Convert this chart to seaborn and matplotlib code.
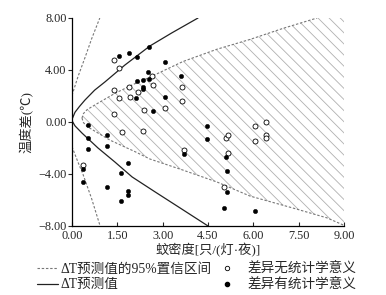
import numpy as np
import pandas as pd
import matplotlib
matplotlib.use("Agg")
import matplotlib.pyplot as plt
from matplotlib.lines import Line2D
import seaborn as sns

# ---------------- data ----------------
ns_x = [1.39, 1.56, 1.39, 1.56, 1.89, 1.92, 2.18, 2.38, 2.68, 2.65, 1.39, 1.65, 2.35,
        3.08, 3.64, 3.64, 3.71, 6.06, 6.42, 5.10, 5.16, 6.06, 6.42, 6.42, 5.16, 5.03, 0.36]
ns_y = [4.77, 4.15, 2.46, 1.85, 2.69, 1.92, 2.31, 0.92, 2.85, 3.54, 0.62, -0.77, -0.69,
        1.08, 2.69, 1.62, -2.15, -0.31, 0.00, -1.23, -1.00, -1.46, -1.00, -1.23, -2.38, -5.00, -3.31]

sig_x = [1.56, 1.89, 2.15, 2.55, 3.08, 2.51, 2.15, 2.35, 2.55, 2.35, 2.35, 2.12, 3.08,
         2.68, 3.61, 0.53, 0.53, 1.16, 1.16, 0.53, 4.47, 4.47, 3.71, 5.10, 5.13, 5.13,
         5.03, 6.06, 1.85, 0.36, 0.36, 1.62, 1.16, 1.85, 1.85, 1.62]
sig_y = [5.08, 5.31, 5.00, 5.77, 4.62, 3.85, 3.15, 3.23, 3.31, 2.69, 2.54, 1.85, 1.92,
         0.85, 3.54, -0.23, -1.23, -1.00, -1.85, -2.08, -0.31, -1.31, -2.46, -2.69, -3.77, -5.38,
         -6.62, -6.85, -3.15, -3.62, -4.62, -3.92, -5.00, -5.31, -5.62, -6.08]

# predicted curve (two branches)
pred_up_x = [0.00, 0.10, 0.25, 0.43, 0.75, 1.09, 1.75, 2.58, 3.30, 4.17]
pred_up_y = [0.20, 0.75, 1.20, 1.69, 2.45, 3.08, 4.38, 5.85, 6.85, 8.00]
pred_lo_x = [0.00, 0.10, 0.33, 0.86, 1.42, 1.99, 2.75, 3.60, 4.50]
pred_lo_y = [0.10, -0.30, -0.85, -2.00, -3.08, -4.23, -5.38, -6.65, -8.00]

# outer 95% CI branches
ci_out_up_x = [0.00, 0.20, 0.43, 0.65, 0.92]
ci_out_up_y = [2.05, 3.50, 4.95, 6.40, 8.00]
ci_out_lo_x = [0.00, 0.20, 0.36, 0.65, 0.93]
ci_out_lo_y = [-1.90, -3.10, -4.00, -5.90, -8.00]

# inner 95% CI branches (hatched region boundary)
ci_in_up_x = [0.33, 0.38, 0.50, 0.86, 1.42, 1.99, 2.58, 3.67, 4.80, 5.89, 6.98, 8.11]
ci_in_up_y = [0.30, 0.65, 0.95, 1.45, 2.20, 2.85, 3.45, 4.65, 5.60, 6.35, 7.20, 8.00]
ci_in_lo_x = [0.33, 0.38, 0.50, 0.86, 1.26, 2.10, 2.58, 3.67, 4.80, 5.89, 7.31, 8.44, 8.97]
ci_in_lo_y = [0.30, -0.05, -0.35, -0.85, -1.40, -2.30, -2.85, -3.70, -4.62, -5.70, -6.62, -7.38, -7.92]

x_ticks = [0.00, 1.50, 3.00, 4.50, 6.00, 7.50, 9.00]
y_ticks = [-8.00, -4.00, 0.00, 4.00, 8.00]

# ---------------- style ----------------
sns.set_style("ticks")
FAM = ["Liberation Serif", "Noto Sans CJK SC", "DejaVu Sans"]
plt.rcParams["font.family"] = FAM
plt.rcParams["hatch.linewidth"] = 0.6
plt.rcParams["axes.unicode_minus"] = True

fig = plt.figure(figsize=(3.86, 2.95), dpi=100)
ax = fig.add_axes([0.1865, 0.234, 0.7047, 0.705])

# hatched region
poly_x = ci_in_up_x + [9.0, 9.0] + ci_in_lo_x[::-1]
poly_y = ci_in_up_y + [8.0, ci_in_lo_y[-1]] + ci_in_lo_y[::-1]
ax.fill(poly_x, poly_y, facecolor="none", edgecolor="#b0b0b0",
        hatch="\\\\\\", linewidth=0)

DASH = (0, (2.2, 1.6))
dash_kw = dict(color="#777777", lw=0.8, ls=DASH)
ax.plot(ci_in_up_x, ci_in_up_y, **dash_kw)
ax.plot(ci_in_lo_x, ci_in_lo_y, **dash_kw)
ax.plot(ci_out_up_x, ci_out_up_y, **dash_kw)
ax.plot(ci_out_lo_x, ci_out_lo_y, **dash_kw)

solid_kw = dict(color="#222222", lw=0.9)
ax.plot(pred_up_x, pred_up_y, **solid_kw)
ax.plot(pred_lo_x, pred_lo_y, **solid_kw)

df_ns = pd.DataFrame({"x": ns_x, "y": ns_y})
df_sig = pd.DataFrame({"x": sig_x, "y": sig_y})
sns.scatterplot(data=df_ns, x="x", y="y", ax=ax, marker="o", s=13,
                facecolor="white", edgecolor="black", linewidth=0.6, zorder=5)
sns.scatterplot(data=df_sig, x="x", y="y", ax=ax, marker="o", s=10,
                color="black", edgecolor="black", linewidth=0.3, zorder=6)

ax.set_xlim(0, 9)
ax.set_ylim(-8, 8)
ax.set_xticks(x_ticks)
ax.set_yticks(y_ticks)
ax.set_xticklabels([f"{v:.2f}" for v in x_ticks])
ax.set_yticklabels([f"{v:.2f}".replace("-", "\u2212") for v in y_ticks])
ax.tick_params(axis="x", direction="in", length=3, width=0.8, labelsize=8.8, pad=3)
ax.tick_params(axis="y", direction="out", length=3, width=0.8, labelsize=8.8, pad=1)
sns.despine(ax=ax)
for s in ["left", "bottom"]:
    ax.spines[s].set_linewidth(0.9)
    ax.spines[s].set_color("black")

ax.set_xlabel("蚊密度[只/(灯·夜)]", fontsize=9.5, labelpad=1)
ax.set_ylabel("温度差(℃)", fontsize=9.5, labelpad=3)

h_left = [
    Line2D([], [], color="#777777", lw=0.8, ls=DASH),
    Line2D([], [], color="#222222", lw=0.9),
]
l_left = ["ΔT预测值的95%置信区间", "ΔT预测值"]
h_right = [
    Line2D([], [], ls="none", marker="o", markersize=3.2, markerfacecolor="white",
           markeredgecolor="black", markeredgewidth=0.6),
    Line2D([], [], ls="none", marker="o", markersize=3.0, color="black"),
]
l_right = ["差异无统计学意义", "差异有统计学意义"]

leg1 = fig.legend(h_left, l_left, loc="lower left", bbox_to_anchor=(0.07, -0.02),
                  frameon=False, fontsize=9.8, handlelength=1.6, handletextpad=0.15,
                  labelspacing=0.2, borderpad=0.2)
leg2 = fig.legend(h_right, l_right, loc="lower left", bbox_to_anchor=(0.545, -0.02),
                  frameon=False, fontsize=9.8, handlelength=1.0, handletextpad=1.0,
                  labelspacing=0.2, borderpad=0.2)

fig.savefig("out.png", dpi=100)
